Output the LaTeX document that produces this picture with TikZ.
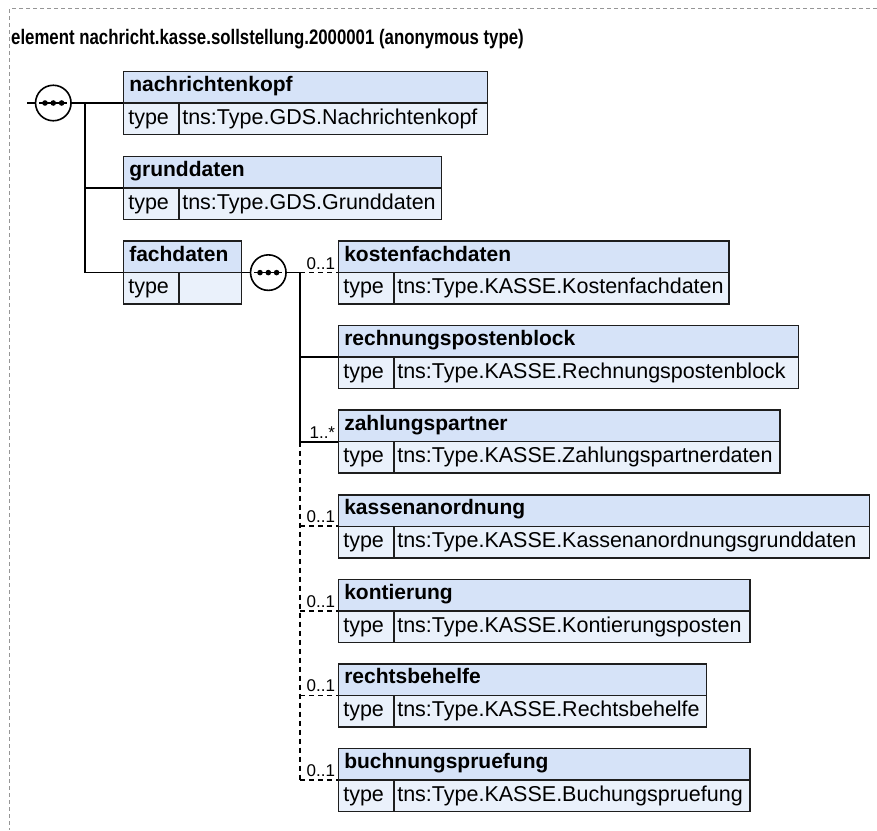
\documentclass[tikz,border=0pt]{standalone}
\usepackage{fontspec}
\setmainfont{Liberation Sans}
\usepackage{tikz}

\definecolor{hdrblue}{RGB}{214,227,248}
\definecolor{rowblue}{RGB}{234,241,251}
\definecolor{boxline}{RGB}{30,30,30}
\definecolor{framegray}{RGB}{150,150,150}

\begin{document}
\begin{tikzpicture}[
    x=1pt, y=-1pt,
    hdr/.style={rectangle, draw=boxline, fill=hdrblue, line width=1.5pt, anchor=north west, outer sep=0pt,
        minimum height=31.5pt, inner xsep=6pt, inner ysep=0pt, text height=14.5pt, text depth=6pt,
        align=left, font=\fontsize{21}{23}\selectfont\bfseries},
    tkey/.style={rectangle, draw=boxline, fill=rowblue, line width=1.5pt, anchor=north west, outer sep=0pt,
        minimum height=31.5pt, inner xsep=5pt, inner ysep=0pt, text height=16.5pt, text depth=5.5pt,
        text width=45.5pt, align=left, font=\fontsize{21.5}{23}\selectfont},
    tval/.style={tkey, inner xsep=3.5pt},
    mult/.style={anchor=south east, inner sep=0pt, font=\fontsize{17}{19}\selectfont},
    seqc/.style={circle, draw=black, fill=white, line width=1.6pt, minimum size=35.5pt, inner sep=0pt, outer sep=0pt},
    conn/.style={draw=black, line width=1.6pt},
    opt/.style={dash pattern=on 5pt off 4pt}
]
\useasboundingbox (0,0) rectangle (877,830);
\draw[framegray, line width=1pt, dash pattern=on 4pt off 3pt] (877,8.5) -- (9.5,8.5) -- (9.5,830);
\node[anchor=base west, inner sep=0pt, font=\fontsize{21}{23}\selectfont\bfseries] (ttl) at (11,44)
    {\scalebox{0.8}[1]{element nachricht.kasse.sollstellung.2000001 (anonymous type)}};

% top level sequence
\node[hdr, text width=352pt] (h1) at (123.3,71.5) {nachrichtenkopf};
\node[tkey] (k1) at (h1.south west) {type};
\node[tval, text width=301.5pt] (v1) at (k1.north east) {tns:Type.GDS.Nachrichtenkopf};

\node[hdr, text width=306.4pt] (h2) at (123.3,156.3) {grunddaten};
\node[tkey] (k2) at (h2.south west) {type};
\node[tval, text width=255.9pt] (v2) at (k2.north east) {tns:Type.GDS.Grunddaten};

\node[hdr, text width=106.4pt] (h3) at (123.3,241.1) {fachdaten};
\node[tkey] (k3) at (h3.south west) {type};
\node[tval, text width=55.9pt] (v3) at (k3.north east) {};

% children of fachdaten
\node[hdr, text width=378.7pt] (h4) at (338.3,241.1) {kostenfachdaten};
\node[tkey] (k4) at (h4.south west) {type};
\node[tval, text width=328.2pt] (v4) at (k4.north east) {tns:Type.KASSE.Kostenfachdaten};

\node[hdr, text width=448pt] (h5) at (338.3,325.65) {rechnungspostenblock};
\node[tkey] (k5) at (h5.south west) {type};
\node[tval, text width=397.5pt] (v5) at (k5.north east) {tns:Type.KASSE.Rechnungspostenblock};

\node[hdr, text width=429.7pt] (h6) at (338.3,410.2) {zahlungspartner};
\node[tkey] (k6) at (h6.south west) {type};
\node[tval, text width=379.2pt] (v6) at (k6.north east) {tns:Type.KASSE.Zahlungspartnerdaten};

\node[hdr, text width=519pt] (h7) at (338.3,494.75) {kassenanordnung};
\node[tkey] (k7) at (h7.south west) {type};
\node[tval, text width=468.5pt] (v7) at (k7.north east) {tns:Type.KASSE.Kassenanordnungsgrunddaten};

\node[hdr, text width=399.7pt] (h8) at (338.3,579.3) {kontierung};
\node[tkey] (k8) at (h8.south west) {type};
\node[tval, text width=349.2pt] (v8) at (k8.north east) {tns:Type.KASSE.Kontierungsposten};

\node[hdr, text width=356.4pt] (h9) at (338.3,663.85) {rechtsbehelfe};
\node[tkey] (k9) at (h9.south west) {type};
\node[tval, text width=305.9pt] (v9) at (k9.north east) {tns:Type.KASSE.Rechtsbehelfe};

\node[hdr, text width=399.7pt] (h10) at (338.3,748.4) {buchnungspruefung};
\node[tkey] (k10) at (h10.south west) {type};
\node[tval, text width=349.2pt] (v10) at (k10.north east) {tns:Type.KASSE.Buchungspruefung};

% sequence compositors
\node[seqc] (s1) at (53.3,103) {};
\node[seqc] (s2) at (268.3,272.6) {};
\foreach \s in {s1,s2} {
    \draw[line width=1.6pt] ([xshift=-14pt]\s.center) -- ([xshift=14pt]\s.center);
    \foreach \dx in {-8.3,0,8.3}
        \fill ([xshift=\dx pt]\s.center) circle (2.8pt);
}
\coordinate (rootin) at (27,103);
\coordinate (j1) at (85,103);
\coordinate (j2) at (300,272.6);

% connectors
\draw[conn] (rootin) -- (s1.west);
\draw[conn] (s1.east) -- (h1.south west);
\draw[conn] (j1) |- (h3.south west);
\draw[conn] (j1 |- h2.south west) -- (h2.south west);
\draw[conn] (h3.south east) -- (s2.west);
\draw[conn] (s2.east) -- (j2);
\draw[conn] (j2) -- (j2 |- h6.south west);
\draw[conn, opt] (j2 |- h6.south west) -- (j2 |- h10.south west);
\draw[conn, opt] (j2) -- (h4.south west);
\draw[conn] (j2 |- h5.south west) -- (h5.south west);
\draw[conn] (j2 |- h6.south west) -- (h6.south west);
\foreach \n in {h7,h8,h9,h10}
    \draw[conn, opt] (j2 |- \n.south west) -- (\n.south west);

% multiplicities
\node[mult] (m4) at ([xshift=-3pt,yshift=3pt]h4.south west) {0..1};
\node[mult] (m6) at ([xshift=-3pt,yshift=3pt]h6.south west) {1..*};
\node[mult] (m7) at ([xshift=-3pt,yshift=3pt]h7.south west) {0..1};
\node[mult] (m8) at ([xshift=-3pt,yshift=3pt]h8.south west) {0..1};
\node[mult] (m9) at ([xshift=-3pt,yshift=3pt]h9.south west) {0..1};
\node[mult] (m10) at ([xshift=-3pt,yshift=3pt]h10.south west) {0..1};
\end{tikzpicture}
\end{document}
